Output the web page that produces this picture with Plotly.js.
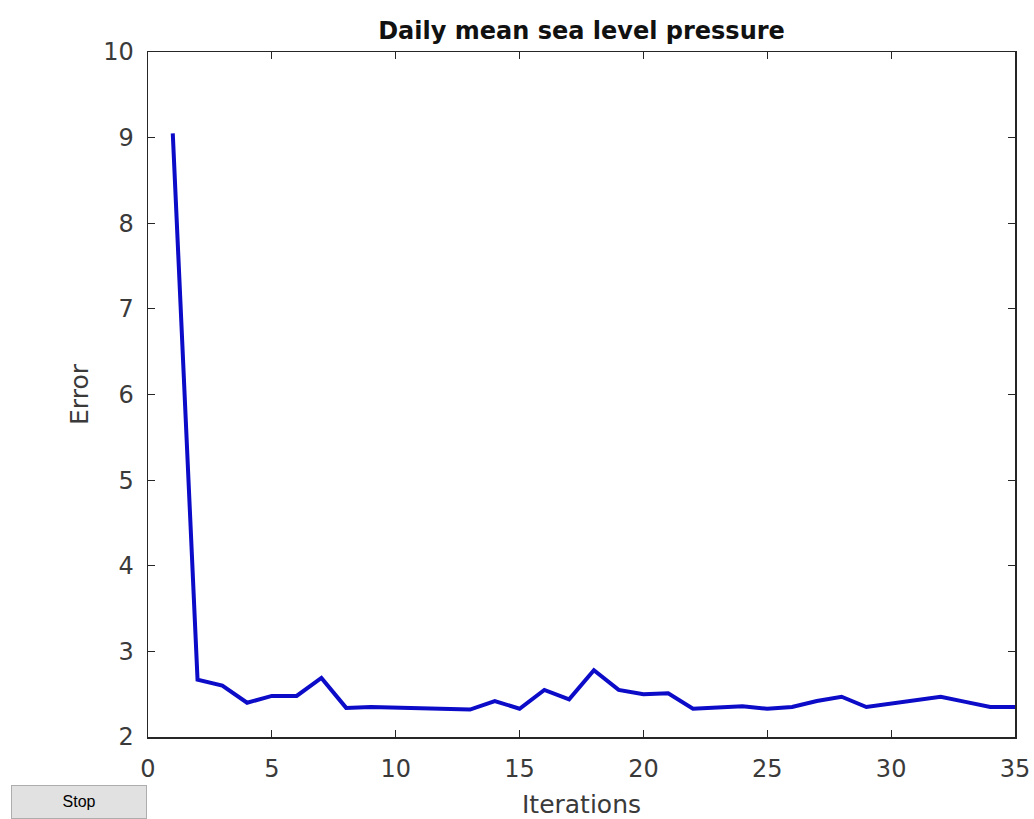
<!DOCTYPE html>
<html>
<head>
<meta charset="utf-8">
<script src="https://cdn.plot.ly/plotly-3.0.1.min.js"></script>
<style>
  body { margin: 0; background: #fff; }
  #wrap { position: relative; width: 1034px; height: 819px; }
  #myDiv { width: 1034px; height: 819px; }
  #stop {
    position: absolute; left: 11px; top: 785px; width: 136px; height: 34px;
    background: #e1e1e1; border: 1px solid #adadad; box-sizing: border-box;
    font-family: "Liberation Sans", Arial, sans-serif; font-size: 16px; color: #000;
    display: flex; align-items: center; justify-content: center;
  }
</style>
</head>
<body>
<div id="wrap">
  <div id="myDiv"></div>
  <div id="stop">Stop</div>
</div>
<script>
// iteration numbers and the error at each one
const iterations = [1,2,3,4,5,6,7,8,9,10,11,12,13,14,15,16,17,18,19,20,21,22,23,24,25,26,27,28,29,30,31,32,33,34,35];
const errors = [9.05,2.67,2.60,2.40,2.48,2.48,2.69,2.34,2.35,2.34,2.33,2.33,2.32,2.42,2.33,2.55,2.44,2.78,2.55,2.50,2.51,2.33,2.35,2.36,2.33,2.35,2.42,2.47,2.35,2.39,2.42,2.47,2.41,2.35,2.35];

const xTicks = [0,5,10,15,20,25,30,35];
const yTicks = [2,3,4,5,6,7,8,9,10];

var trace1 = {
  x: iterations,
  y: errors,
  type: 'scatter',
  mode: 'lines',
  line: {color: '#0b0bc8', width: 4},
  hoverinfo: 'none'
};

var fam = '"DejaVu Sans", "Liberation Sans", Arial, sans-serif';
var axisFont = {family: fam, size: 24, color: '#3a3a3a'};
var labelFont = {family: fam, size: 25, color: '#3a3a3a'};

var layout = {
  width: 1034,
  height: 819,
  margin: {l: 148, r: 19, t: 52, b: 82},
  paper_bgcolor: '#fff',
  plot_bgcolor: '#fff',
  showlegend: false,
  title: {
    text: '<b>Daily mean sea level pressure</b>',
    font: {family: fam, size: 24, color: '#111'},
    xref: 'paper', x: 0.5, xanchor: 'center',
    yref: 'container', y: 0.963, yanchor: 'middle'
  },
  xaxis: {
    range: [0, 35],
    tickvals: xTicks,
    ticks: 'inside', ticklen: 7, tickwidth: 1, tickcolor: '#262626',
    showline: true, linecolor: '#262626', linewidth: 1.5, mirror: 'ticks',
    showgrid: false, zeroline: false,
    tickfont: axisFont,
    ticklabelstandoff: 10,
    title: {text: 'Iterations', font: labelFont, standoff: 15}
  },
  yaxis: {
    range: [2, 10],
    tickvals: yTicks,
    ticks: 'inside', ticklen: 7, tickwidth: 1, tickcolor: '#262626',
    showline: true, linecolor: '#262626', linewidth: 1.5, mirror: 'ticks',
    showgrid: false, zeroline: false,
    tickfont: axisFont,
    ticklabelstandoff: 8,
    title: {text: 'Error', font: labelFont, standoff: 7}
  }
};

Plotly.newPlot('myDiv', [trace1], layout, {displayModeBar: false, staticPlot: true});
</script>
</body>
</html>
